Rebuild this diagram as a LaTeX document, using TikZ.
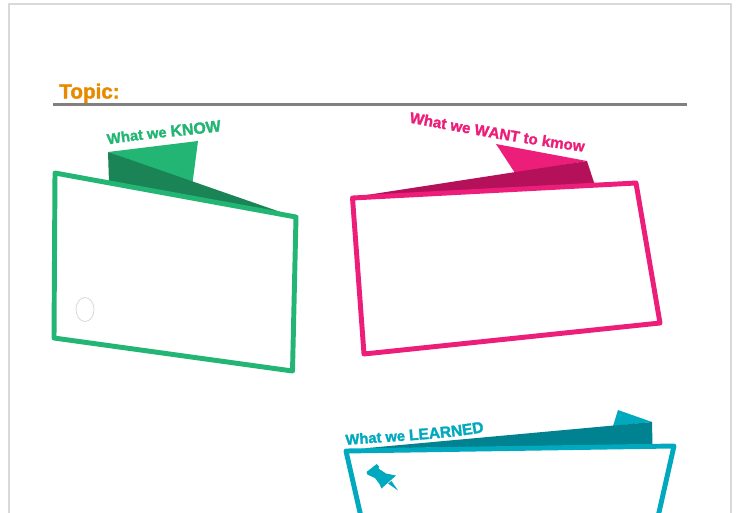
\documentclass[tikz,border=0pt]{standalone}
\usepackage{fontspec}
\setmainfont{Liberation Sans}[BoldFeatures={FakeBold=1.6}]
\usetikzlibrary{decorations.text}
\definecolor{knowgreen}{HTML}{22B573}
\definecolor{knowdark}{HTML}{1B8456}
\definecolor{wantpink}{HTML}{ED1E79}
\definecolor{wantdark}{HTML}{B5105A}
\definecolor{learnteal}{HTML}{00A9BD}
\definecolor{learndark}{HTML}{008291}
\definecolor{topicorange}{HTML}{E88A00}
\tikzset{
  frame/.style={line width=3.7pt, line join=round, fill=white},
  banner/.style={decorate, decoration={text along path, text align=left, text={#1}}},
}
\newcommand{\bannerfont}[2]{\bfseries\fontsize{#2}{13}\selectfont\color{#1}}

\begin{document}
\begin{tikzpicture}[x=0.75pt, y=-0.75pt]
  \useasboundingbox (0, 0) rectangle (739, 512);
  \clip (0, 0) rectangle (739, 512);
  \draw [gray!30, line width=1.5pt] (8.5, 530) -- (8.5, 3.5) -- (731, 3.5) -- (731, 530);

  \node [anchor=base west, inner sep=0pt, text=topicorange, font=\bfseries\fontsize{15.5}{18}\selectfont] (topic) at (59, 98.5) {Topic:};
  \draw [gray, line width=2.2pt] (53, 104.5) -- (687, 104.5);

  % know
  \fill [knowgreen] (108, 152) -- (198, 141) -- (192.5, 183) -- cycle;
  \fill [knowdark] (108, 152) -- (109, 183) -- (292, 216) -- cycle;
  \draw [frame, draw=knowgreen] (55, 173) -- (296, 217) -- (292.5, 371) -- (54, 338) -- cycle;
  \draw [banner={|\bannerfont{knowgreen}{11}|What we |\bannerfont{knowgreen}{12}|KNOW}] (108, 144.5) .. controls (145, 138) and (185, 136) .. (222, 131);
  \draw [draw=gray!30, line width=0.6pt] (85, 309.5) ellipse [x radius=9, y radius=12];

  % want
  \fill [wantpink] (496, 144) -- (587, 161) -- (515, 173) -- cycle;
  \fill [wantdark] (587, 161) -- (594.5, 184) -- (360, 196) -- cycle;
  \draw [frame, draw=wantpink] (352.5, 198) -- (636, 183) -- (660, 323) -- (364, 354) -- cycle;
  \draw [banner={|\bannerfont{wantpink}{11.4}|What we WANT to kmow}] (409, 122.5) .. controls (470, 134) and (530, 145) .. (590, 152.5);

  % learned
  \fill [learnteal] (618, 410) -- (652, 422) -- (613, 426) -- cycle;
  \fill [learndark] (652, 422) -- (652.5, 445) -- (362, 448.5) -- cycle;
  \draw [frame, draw=learnteal] (346, 451) -- (674, 446) -- (655, 530) -- (364, 530) -- cycle;
  \draw [banner={|\bannerfont{learnteal}{11}|What we |\bannerfont{learnteal}{11.7}|LEARNED}] (346, 445) .. controls (390, 441) and (440, 440) .. (484, 432);
  \fill [learnteal] (376.7, 464) -- (379, 466.5) -- (378.5, 468.5) -- (386, 473.5) -- (396, 475.5) -- (381.5, 488.5) -- (379.5, 484) -- (375, 478) -- (370.5, 476) -- (367.5, 474.5) -- (366.5, 472) -- cycle;
  \fill [learnteal] (388, 483.5) -- (391.5, 481) -- (398, 490.5) -- cycle;
\end{tikzpicture}
\end{document}
